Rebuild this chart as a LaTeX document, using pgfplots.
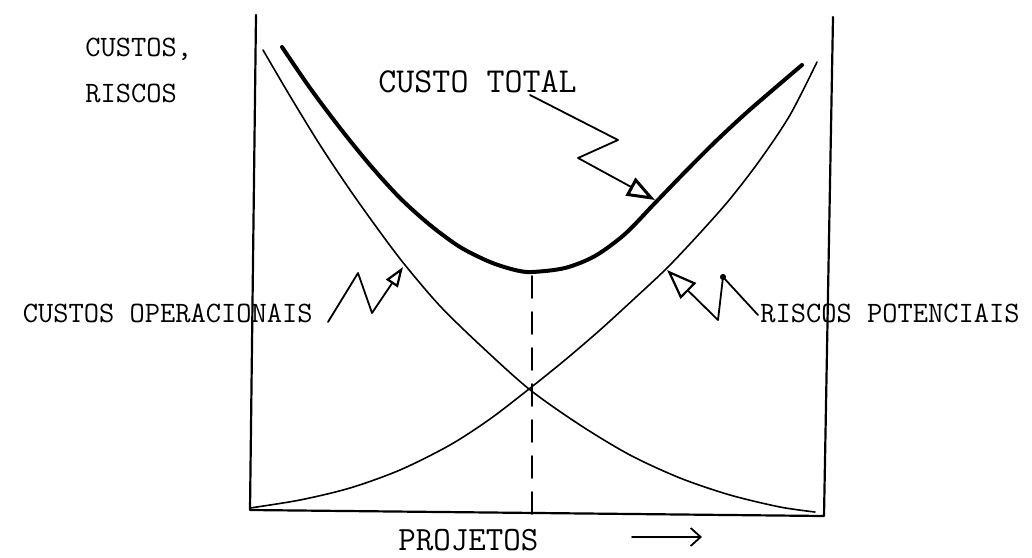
\documentclass[border=0pt]{standalone}
\usepackage{pgfplots}
\pgfplotsset{compat=1.18}
\usetikzlibrary{arrows.meta}
\begin{document}
\begin{tikzpicture}
\begin{axis}[
  at={(0,0)}, anchor=south west,
  scale only axis, width=516pt, height=278.5pt,
  xmin=0, xmax=1032, ymin=0, ymax=557, y dir=reverse,
  hide axis, clip=false,
  every axis plot/.append style={line join=round, line cap=round},
  nodes={font=\ttfamily\fontsize{14.8}{17}\selectfont, inner sep=0pt, text=black}
]
% frame
\addplot[black, line width=1.1pt, no marks] coordinates {(256,15) (250,510) (824,516) (833,17)};
% dashed line at the minimum
\addplot[black, line width=0.9pt, dash pattern=on 11pt off 7pt, no marks] coordinates {(532,276) (532,514)};
% custos operacionais (decreasing)
\addplot[black, line width=0.8pt, smooth, no marks] coordinates {
 (263,50) (290,96) (320,145) (350,190) (380,232) (405,265) (440,306) (480,345)
 (529,389) (580,425) (630,455) (680,478) (730,495) (780,507) (815,512)};
% riscos potenciais (increasing)
\addplot[black, line width=0.8pt, smooth, no marks] coordinates {
 (250,508) (300,500) (350,488) (400,470) (450,445) (490,419) (529,389) (565,360)
 (600,330) (635,298) (667,268) (700,233) (730,199) (760,160) (790,115) (817,62)};
% custo total
\addplot[black, line width=2pt, smooth, no marks] coordinates {
 (282,47) (310,88) (340,128) (370,165) (400,198) (430,225) (460,247) (490,262)
 (515,270) (532,272) (565,268) (595,256) (625,234) (655,203) (685,172) (715,142)
 (745,114) (775,88) (802,65)};
% annotation arrows
\addplot[black, line width=0.9pt, no marks, -{Triangle[open, length=14pt, width=10pt, line width=1.5pt]}]
  coordinates {(530,95) (618,140) (578,158) (655,200)};
\addplot[black, line width=0.9pt, no marks, -{Triangle[open, length=10pt, width=7pt, line width=1.1pt]}]
  coordinates {(328,322) (358,273) (372,313) (403,267)};
\addplot[black, line width=0.9pt, no marks, -{Triangle[open, length=15pt, width=11pt, line width=1.1pt]}]
  coordinates {(758,315) (723,277) (718,320) (667,270)};
\addplot[black, only marks, mark=*, mark size=1.3pt] coordinates {(723,277)};
% x arrow
\addplot[black, line width=0.9pt, no marks, -{Straight Barb[length=5pt, width=9pt]}]
  coordinates {(632,537) (702,537)};
% texts
\node[anchor=base west] at (axis cs:85,56) {CUSTOS,};
\node[anchor=base west] at (axis cs:85,102) {RISCOS};
\node[anchor=base west, font=\ttfamily\fontsize{17.5}{20}\selectfont] at (axis cs:378,92) {CUSTO TOTAL};
\node[anchor=base east] at (axis cs:313,322) {CUSTOS OPERACIONAIS};
\node[anchor=base west] at (axis cs:760,322) {RISCOS POTENCIAIS};
\node[anchor=base west, font=\ttfamily\fontsize{17}{20}\selectfont] at (axis cs:398,550) {PROJETOS};
\end{axis}
\pgfresetboundingbox
\useasboundingbox (0,0) rectangle (516pt,278.5pt);
\end{tikzpicture}
\end{document}
